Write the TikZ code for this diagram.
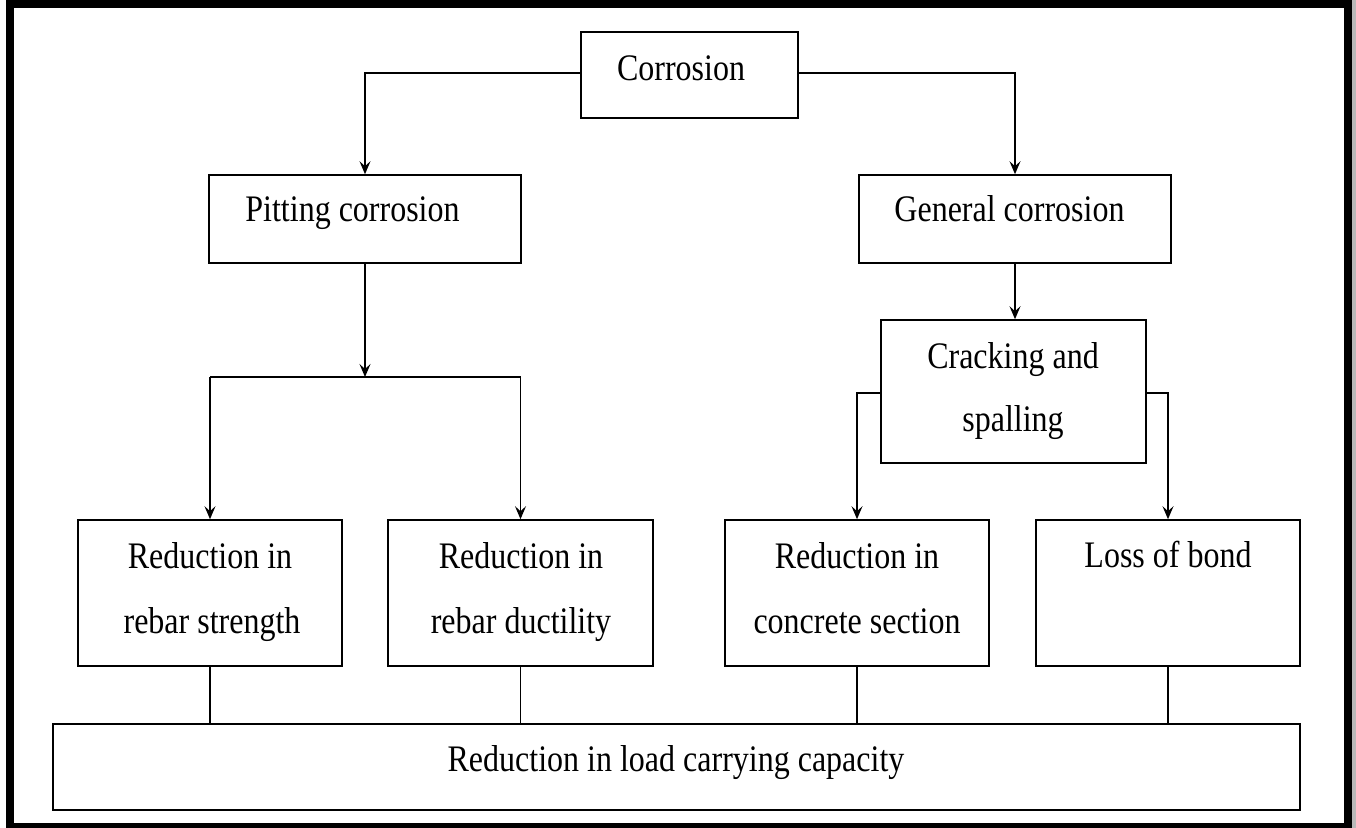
\documentclass[tikz,border=0pt]{standalone}
\usepackage{fontspec}
\setmainfont{Liberation Serif}
\usetikzlibrary{arrows.meta}
\newcommand\stx[1]{\scalebox{1}[1.17]{#1}}
\begin{document}
\begin{tikzpicture}[x=0.5pt,y=-0.5pt,
  box/.style={draw, line width=0.8pt, inner sep=0pt},
  txt/.style={anchor=base, inner sep=0pt, font=\fontsize{16pt}{18pt}\selectfont},
  conn/.style={line width=0.6pt},
  arr/.style={conn, -{Stealth[length=6.5pt,width=5.5pt,inset=2.5pt]}}]
\useasboundingbox (0,0) rectangle (1356,828);
% frame
\fill[gray!55] (1351,0) rectangle (1356,828);
\draw[line width=4pt] (10,4.5) rectangle (1347.5,827);
% boxes
\node[box, minimum width=108.5pt, minimum height=43pt] (cor) at (689.5,75) {};
\node[box, minimum width=156pt, minimum height=44pt] (pit) at (365,219) {};
\node[box, minimum width=156pt, minimum height=44pt] (gen) at (1015,219) {};
\node[box, minimum width=132.5pt, minimum height=71.5pt] (crack) at (1013.5,391.5) {};
\node[box, minimum width=132pt, minimum height=73pt] (rs) at (210,593) {};
\node[box, minimum width=132.5pt, minimum height=73pt] (rd) at (520.5,593) {};
\node[box, minimum width=132pt, minimum height=73pt] (rc) at (857,593) {};
\node[box, minimum width=132pt, minimum height=73pt] (lb) at (1168,593) {};
\node[box, minimum width=623.5pt, minimum height=43pt] (bot) at (676.5,767) {};
% texts
\node[txt] (tcor) at (681,81) {\stx{Corrosion}};
\node[txt] (tpit) at (352.5,222) {\stx{Pitting corrosion}};
\node[txt] (tgen) at (1009.5,222) {\stx{General corrosion}};
\node[txt] (tcr1) at (1013,369) {\stx{Cracking and}};
\node[txt] (tcr2) at (1013,432) {\stx{spalling}};
\node[txt] (trs1) at (210,569) {\stx{Reduction in}};
\node[txt] (trs2) at (212,634) {\stx{rebar strength}};
\node[txt] (trd1) at (521,569) {\stx{Reduction in}};
\node[txt] (trd2) at (521,634) {\stx{rebar ductility}};
\node[txt] (trc1) at (857,569) {\stx{Reduction in}};
\node[txt] (trc2) at (857,634) {\stx{concrete section}};
\node[txt] (tlb) at (1168,568) {\stx{Loss of bond}};
\node[txt] (tbot) at (676,771) {\stx{Reduction in load carrying capacity}};
% connectors
\draw[arr] ([yshift=1pt]cor.west) -| (pit.north);
\draw[arr] ([yshift=1pt]cor.east) -| (gen.north);
\coordinate (pb) at (365,377);
\draw[arr] (pit.south) -- (pb);
\draw[conn] (rs.north |- pb) -- (rd.north |- pb);
\draw[arr] (rs.north |- pb) -- (rs.north);
\draw[arr] (rd.north |- pb) -- (rd.north);
\draw[arr] (gen.south) -- (gen.south |- crack.north);
\draw[arr] ([yshift=-0.75pt]crack.west) -| (rc.north);
\draw[arr] ([yshift=-0.75pt]crack.east) -| (lb.north);
\draw[conn] (rs.south) -- (rs.south |- bot.north);
\draw[conn] (rd.south) -- (rd.south |- bot.north);
\draw[conn] (rc.south) -- (rc.south |- bot.north);
\draw[conn] (lb.south) -- (lb.south |- bot.north);
\end{tikzpicture}
\end{document}
